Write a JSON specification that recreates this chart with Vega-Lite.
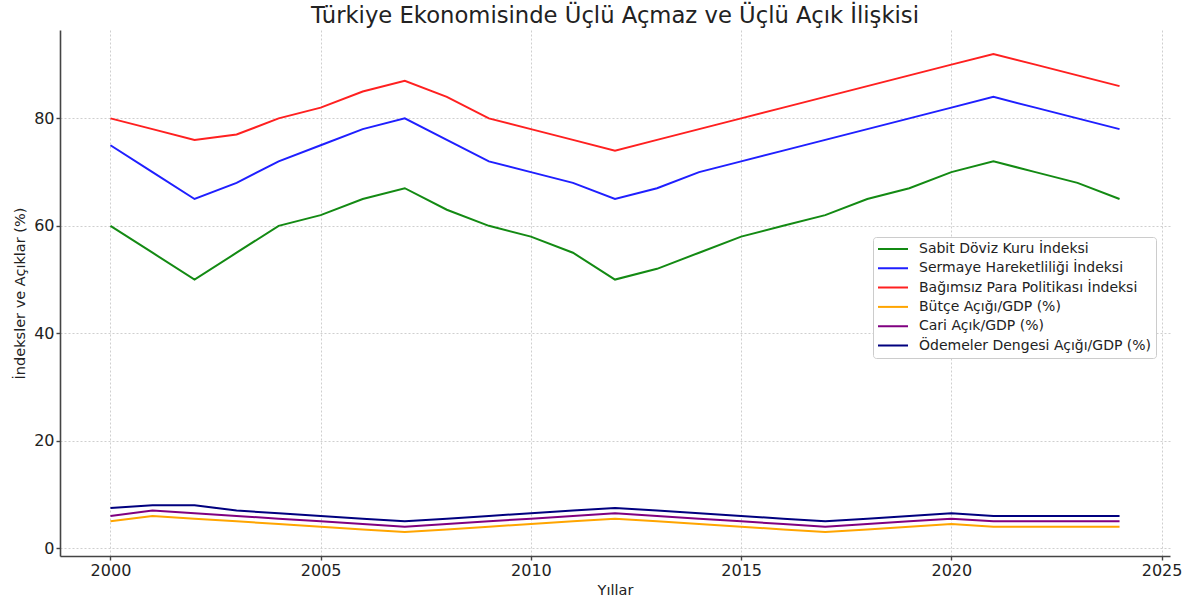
{
  "$schema": "https://vega.github.io/schema/vega-lite/v6.json",
  "autosize": "none",
  "width": 1110,
  "height": 526,
  "padding": {"left": 60, "top": 30, "right": 17, "bottom": 43},
  "background": "white",
  "title": {
    "text": "Türkiye Ekonomisinde Üçlü Açmaz ve Üçlü Açık İlişkisi",
    "font": "DejaVu Sans",
    "fontSize": 22.7,
    "fontWeight": "normal",
    "color": "#222222",
    "anchor": "middle",
    "offset": 2
  },
  "data": {
    "values": [
      {"year":2000,"series":"Sabit Döviz Kuru İndeksi","value":60},
      {"year":2001,"series":"Sabit Döviz Kuru İndeksi","value":55},
      {"year":2002,"series":"Sabit Döviz Kuru İndeksi","value":50},
      {"year":2003,"series":"Sabit Döviz Kuru İndeksi","value":55},
      {"year":2004,"series":"Sabit Döviz Kuru İndeksi","value":60},
      {"year":2005,"series":"Sabit Döviz Kuru İndeksi","value":62},
      {"year":2006,"series":"Sabit Döviz Kuru İndeksi","value":65},
      {"year":2007,"series":"Sabit Döviz Kuru İndeksi","value":67},
      {"year":2008,"series":"Sabit Döviz Kuru İndeksi","value":63},
      {"year":2009,"series":"Sabit Döviz Kuru İndeksi","value":60},
      {"year":2010,"series":"Sabit Döviz Kuru İndeksi","value":58},
      {"year":2011,"series":"Sabit Döviz Kuru İndeksi","value":55},
      {"year":2012,"series":"Sabit Döviz Kuru İndeksi","value":50},
      {"year":2013,"series":"Sabit Döviz Kuru İndeksi","value":52},
      {"year":2014,"series":"Sabit Döviz Kuru İndeksi","value":55},
      {"year":2015,"series":"Sabit Döviz Kuru İndeksi","value":58},
      {"year":2016,"series":"Sabit Döviz Kuru İndeksi","value":60},
      {"year":2017,"series":"Sabit Döviz Kuru İndeksi","value":62},
      {"year":2018,"series":"Sabit Döviz Kuru İndeksi","value":65},
      {"year":2019,"series":"Sabit Döviz Kuru İndeksi","value":67},
      {"year":2020,"series":"Sabit Döviz Kuru İndeksi","value":70},
      {"year":2021,"series":"Sabit Döviz Kuru İndeksi","value":72},
      {"year":2022,"series":"Sabit Döviz Kuru İndeksi","value":70},
      {"year":2023,"series":"Sabit Döviz Kuru İndeksi","value":68},
      {"year":2024,"series":"Sabit Döviz Kuru İndeksi","value":65},

      {"year":2000,"series":"Sermaye Hareketliliği İndeksi","value":75},
      {"year":2001,"series":"Sermaye Hareketliliği İndeksi","value":70},
      {"year":2002,"series":"Sermaye Hareketliliği İndeksi","value":65},
      {"year":2003,"series":"Sermaye Hareketliliği İndeksi","value":68},
      {"year":2004,"series":"Sermaye Hareketliliği İndeksi","value":72},
      {"year":2005,"series":"Sermaye Hareketliliği İndeksi","value":75},
      {"year":2006,"series":"Sermaye Hareketliliği İndeksi","value":78},
      {"year":2007,"series":"Sermaye Hareketliliği İndeksi","value":80},
      {"year":2008,"series":"Sermaye Hareketliliği İndeksi","value":76},
      {"year":2009,"series":"Sermaye Hareketliliği İndeksi","value":72},
      {"year":2010,"series":"Sermaye Hareketliliği İndeksi","value":70},
      {"year":2011,"series":"Sermaye Hareketliliği İndeksi","value":68},
      {"year":2012,"series":"Sermaye Hareketliliği İndeksi","value":65},
      {"year":2013,"series":"Sermaye Hareketliliği İndeksi","value":67},
      {"year":2014,"series":"Sermaye Hareketliliği İndeksi","value":70},
      {"year":2015,"series":"Sermaye Hareketliliği İndeksi","value":72},
      {"year":2016,"series":"Sermaye Hareketliliği İndeksi","value":74},
      {"year":2017,"series":"Sermaye Hareketliliği İndeksi","value":76},
      {"year":2018,"series":"Sermaye Hareketliliği İndeksi","value":78},
      {"year":2019,"series":"Sermaye Hareketliliği İndeksi","value":80},
      {"year":2020,"series":"Sermaye Hareketliliği İndeksi","value":82},
      {"year":2021,"series":"Sermaye Hareketliliği İndeksi","value":84},
      {"year":2022,"series":"Sermaye Hareketliliği İndeksi","value":82},
      {"year":2023,"series":"Sermaye Hareketliliği İndeksi","value":80},
      {"year":2024,"series":"Sermaye Hareketliliği İndeksi","value":78},

      {"year":2000,"series":"Bağımsız Para Politikası İndeksi","value":80},
      {"year":2001,"series":"Bağımsız Para Politikası İndeksi","value":78},
      {"year":2002,"series":"Bağımsız Para Politikası İndeksi","value":76},
      {"year":2003,"series":"Bağımsız Para Politikası İndeksi","value":77},
      {"year":2004,"series":"Bağımsız Para Politikası İndeksi","value":80},
      {"year":2005,"series":"Bağımsız Para Politikası İndeksi","value":82},
      {"year":2006,"series":"Bağımsız Para Politikası İndeksi","value":85},
      {"year":2007,"series":"Bağımsız Para Politikası İndeksi","value":87},
      {"year":2008,"series":"Bağımsız Para Politikası İndeksi","value":84},
      {"year":2009,"series":"Bağımsız Para Politikası İndeksi","value":80},
      {"year":2010,"series":"Bağımsız Para Politikası İndeksi","value":78},
      {"year":2011,"series":"Bağımsız Para Politikası İndeksi","value":76},
      {"year":2012,"series":"Bağımsız Para Politikası İndeksi","value":74},
      {"year":2013,"series":"Bağımsız Para Politikası İndeksi","value":76},
      {"year":2014,"series":"Bağımsız Para Politikası İndeksi","value":78},
      {"year":2015,"series":"Bağımsız Para Politikası İndeksi","value":80},
      {"year":2016,"series":"Bağımsız Para Politikası İndeksi","value":82},
      {"year":2017,"series":"Bağımsız Para Politikası İndeksi","value":84},
      {"year":2018,"series":"Bağımsız Para Politikası İndeksi","value":86},
      {"year":2019,"series":"Bağımsız Para Politikası İndeksi","value":88},
      {"year":2020,"series":"Bağımsız Para Politikası İndeksi","value":90},
      {"year":2021,"series":"Bağımsız Para Politikası İndeksi","value":92},
      {"year":2022,"series":"Bağımsız Para Politikası İndeksi","value":90},
      {"year":2023,"series":"Bağımsız Para Politikası İndeksi","value":88},
      {"year":2024,"series":"Bağımsız Para Politikası İndeksi","value":86},

      {"year":2000,"series":"Bütçe Açığı/GDP (%)","value":5},
      {"year":2001,"series":"Bütçe Açığı/GDP (%)","value":6},
      {"year":2002,"series":"Bütçe Açığı/GDP (%)","value":5.5},
      {"year":2003,"series":"Bütçe Açığı/GDP (%)","value":5},
      {"year":2004,"series":"Bütçe Açığı/GDP (%)","value":4.5},
      {"year":2005,"series":"Bütçe Açığı/GDP (%)","value":4},
      {"year":2006,"series":"Bütçe Açığı/GDP (%)","value":3.5},
      {"year":2007,"series":"Bütçe Açığı/GDP (%)","value":3},
      {"year":2008,"series":"Bütçe Açığı/GDP (%)","value":3.5},
      {"year":2009,"series":"Bütçe Açığı/GDP (%)","value":4},
      {"year":2010,"series":"Bütçe Açığı/GDP (%)","value":4.5},
      {"year":2011,"series":"Bütçe Açığı/GDP (%)","value":5},
      {"year":2012,"series":"Bütçe Açığı/GDP (%)","value":5.5},
      {"year":2013,"series":"Bütçe Açığı/GDP (%)","value":5},
      {"year":2014,"series":"Bütçe Açığı/GDP (%)","value":4.5},
      {"year":2015,"series":"Bütçe Açığı/GDP (%)","value":4},
      {"year":2016,"series":"Bütçe Açığı/GDP (%)","value":3.5},
      {"year":2017,"series":"Bütçe Açığı/GDP (%)","value":3},
      {"year":2018,"series":"Bütçe Açığı/GDP (%)","value":3.5},
      {"year":2019,"series":"Bütçe Açığı/GDP (%)","value":4},
      {"year":2020,"series":"Bütçe Açığı/GDP (%)","value":4.5},
      {"year":2021,"series":"Bütçe Açığı/GDP (%)","value":4},
      {"year":2022,"series":"Bütçe Açığı/GDP (%)","value":4},
      {"year":2023,"series":"Bütçe Açığı/GDP (%)","value":4},
      {"year":2024,"series":"Bütçe Açığı/GDP (%)","value":4},

      {"year":2000,"series":"Cari Açık/GDP (%)","value":6},
      {"year":2001,"series":"Cari Açık/GDP (%)","value":7},
      {"year":2002,"series":"Cari Açık/GDP (%)","value":6.5},
      {"year":2003,"series":"Cari Açık/GDP (%)","value":6},
      {"year":2004,"series":"Cari Açık/GDP (%)","value":5.5},
      {"year":2005,"series":"Cari Açık/GDP (%)","value":5},
      {"year":2006,"series":"Cari Açık/GDP (%)","value":4.5},
      {"year":2007,"series":"Cari Açık/GDP (%)","value":4},
      {"year":2008,"series":"Cari Açık/GDP (%)","value":4.5},
      {"year":2009,"series":"Cari Açık/GDP (%)","value":5},
      {"year":2010,"series":"Cari Açık/GDP (%)","value":5.5},
      {"year":2011,"series":"Cari Açık/GDP (%)","value":6},
      {"year":2012,"series":"Cari Açık/GDP (%)","value":6.5},
      {"year":2013,"series":"Cari Açık/GDP (%)","value":6},
      {"year":2014,"series":"Cari Açık/GDP (%)","value":5.5},
      {"year":2015,"series":"Cari Açık/GDP (%)","value":5},
      {"year":2016,"series":"Cari Açık/GDP (%)","value":4.5},
      {"year":2017,"series":"Cari Açık/GDP (%)","value":4},
      {"year":2018,"series":"Cari Açık/GDP (%)","value":4.5},
      {"year":2019,"series":"Cari Açık/GDP (%)","value":5},
      {"year":2020,"series":"Cari Açık/GDP (%)","value":5.5},
      {"year":2021,"series":"Cari Açık/GDP (%)","value":5},
      {"year":2022,"series":"Cari Açık/GDP (%)","value":5},
      {"year":2023,"series":"Cari Açık/GDP (%)","value":5},
      {"year":2024,"series":"Cari Açık/GDP (%)","value":5},

      {"year":2000,"series":"Ödemeler Dengesi Açığı/GDP (%)","value":7.5},
      {"year":2001,"series":"Ödemeler Dengesi Açığı/GDP (%)","value":8},
      {"year":2002,"series":"Ödemeler Dengesi Açığı/GDP (%)","value":8},
      {"year":2003,"series":"Ödemeler Dengesi Açığı/GDP (%)","value":7},
      {"year":2004,"series":"Ödemeler Dengesi Açığı/GDP (%)","value":6.5},
      {"year":2005,"series":"Ödemeler Dengesi Açığı/GDP (%)","value":6},
      {"year":2006,"series":"Ödemeler Dengesi Açığı/GDP (%)","value":5.5},
      {"year":2007,"series":"Ödemeler Dengesi Açığı/GDP (%)","value":5},
      {"year":2008,"series":"Ödemeler Dengesi Açığı/GDP (%)","value":5.5},
      {"year":2009,"series":"Ödemeler Dengesi Açığı/GDP (%)","value":6},
      {"year":2010,"series":"Ödemeler Dengesi Açığı/GDP (%)","value":6.5},
      {"year":2011,"series":"Ödemeler Dengesi Açığı/GDP (%)","value":7},
      {"year":2012,"series":"Ödemeler Dengesi Açığı/GDP (%)","value":7.5},
      {"year":2013,"series":"Ödemeler Dengesi Açığı/GDP (%)","value":7},
      {"year":2014,"series":"Ödemeler Dengesi Açığı/GDP (%)","value":6.5},
      {"year":2015,"series":"Ödemeler Dengesi Açığı/GDP (%)","value":6},
      {"year":2016,"series":"Ödemeler Dengesi Açığı/GDP (%)","value":5.5},
      {"year":2017,"series":"Ödemeler Dengesi Açığı/GDP (%)","value":5},
      {"year":2018,"series":"Ödemeler Dengesi Açığı/GDP (%)","value":5.5},
      {"year":2019,"series":"Ödemeler Dengesi Açığı/GDP (%)","value":6},
      {"year":2020,"series":"Ödemeler Dengesi Açığı/GDP (%)","value":6.5},
      {"year":2021,"series":"Ödemeler Dengesi Açığı/GDP (%)","value":6},
      {"year":2022,"series":"Ödemeler Dengesi Açığı/GDP (%)","value":6},
      {"year":2023,"series":"Ödemeler Dengesi Açığı/GDP (%)","value":6},
      {"year":2024,"series":"Ödemeler Dengesi Açığı/GDP (%)","value":6}
    ]
  },
  "mark": {"type": "line", "strokeWidth": 2, "clip": false},
  "encoding": {
    "x": {
      "field": "year",
      "type": "quantitative",
      "scale": {"domain": [1998.8, 2025.2], "nice": false, "zero": false},
      "axis": {
        "title": "Yıllar",
        "values": [2000, 2005, 2010, 2015, 2020, 2025],
        "format": "d",
        "titlePadding": 5
      }
    },
    "y": {
      "field": "value",
      "type": "quantitative",
      "scale": {"domain": [-1.45, 96.45], "nice": false, "zero": false},
      "axis": {
        "title": "İndeksler ve Açıklar (%)",
        "values": [0, 20, 40, 60, 80],
        "titlePadding": 6
      }
    },
    "color": {
      "field": "series",
      "type": "nominal",
      "scale": {
        "domain": [
          "Sabit Döviz Kuru İndeksi",
          "Sermaye Hareketliliği İndeksi",
          "Bağımsız Para Politikası İndeksi",
          "Bütçe Açığı/GDP (%)",
          "Cari Açık/GDP (%)",
          "Ödemeler Dengesi Açığı/GDP (%)"
        ],
        "range": ["#138a13", "#1f1fff", "#ff2020", "#ffa500", "#800080", "#00007f"]
      },
      "legend": {
        "title": null,
        "orient": "none",
        "legendX": 813,
        "legendY": 207,
        "symbolType": "stroke",
        "symbolSize": 900,
        "symbolStrokeWidth": 2,
        "clipHeight": 16,
        "labelFont": "DejaVu Sans",
        "labelFontSize": 14,
        "labelLimit": 400,
        "labelColor": "#222222",
        "labelOffset": 10,
        "rowPadding": 3.3,
        "padding": 4,
        "fillColor": "white",
        "strokeColor": "#cccccc",
        "cornerRadius": 3
      }
    }
  },
  "config": {
    "view": {"stroke": null},
    "axis": {
      "labelFont": "DejaVu Sans",
      "labelFontSize": 16,
      "labelColor": "#222222",
      "titleFont": "DejaVu Sans",
      "titleFontSize": 14.5,
      "titleFontWeight": "normal",
      "titleColor": "#222222",
      "grid": true,
      "gridColor": "#cfcfcf",
      "gridDash": [2, 2],
      "gridWidth": 1,
      "domainColor": "#444444",
      "domainWidth": 1.6,
      "tickColor": "#444444",
      "tickSize": 4,
      "tickWidth": 1.4,
      "labelPadding": 2
    }
  }
}
